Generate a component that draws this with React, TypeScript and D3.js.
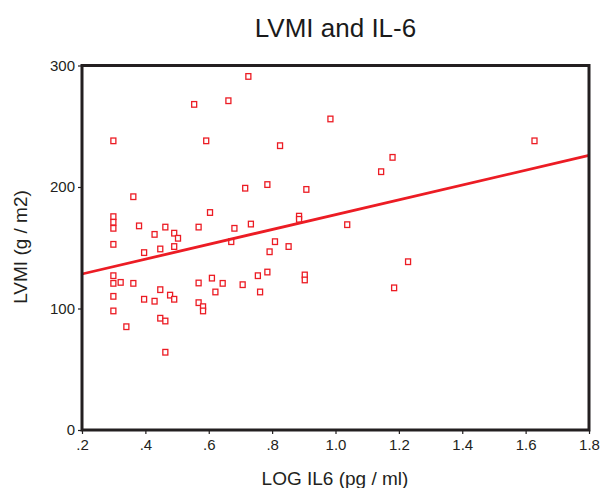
import React, { useEffect, useRef } from "react";
import * as d3 from "d3";

// LOG IL6 (x) and LVMI (y)
const logIL6 = [
  0.725, 0.554, 0.662, 0.984, 0.299, 0.592, 0.825, 0.362, 0.715, 0.785, 0.908,
  0.299, 0.299, 0.299, 0.299, 0.38, 0.429, 0.463, 0.491, 0.503, 0.491, 0.447,
  0.396, 0.568, 0.604, 0.681, 0.733, 0.671, 0.809, 0.792, 0.852, 0.885, 0.885,
  0.299, 0.299, 0.322, 0.362, 0.299, 0.299, 0.34, 0.396, 0.429, 0.447, 0.478,
  0.491, 0.447, 0.463, 0.463, 0.568, 0.61, 0.644, 0.621, 0.568, 0.582, 0.582,
  0.707, 0.755, 0.785, 0.762, 0.903, 0.903, 1.628, 1.18, 1.144, 1.037, 1.229,
  1.185,
];
const lvmi = [
  291, 268, 271, 256, 238, 238, 234, 192, 199, 202, 198,
  175.6, 171, 166, 152.8, 168, 161, 167, 162, 157.8, 151, 149,
  146, 167, 179, 166, 169.5, 155, 155, 146.7, 151, 176, 173.4,
  127, 120.7, 121.5, 120.7, 110, 98, 85, 107.6, 106, 115.5, 111,
  107.6, 92, 89.7, 64, 121, 125, 120.7, 113.6, 104.8, 101.5, 98,
  119.6, 127, 130, 113.6, 127.6, 123.5, 238, 224.4, 212.6, 169, 138.5,
  117,
];

// fitted line as drawn: value at left and right edge of the axis
const fitX = [0.2, 1.8];
const fitY = [128.4, 226];

const xTicks = [0.2, 0.4, 0.6, 0.8, 1.0, 1.2, 1.4, 1.6, 1.8];
const xTickLabels = [".2", ".4", ".6", ".8", "1.0", "1.2", "1.4", "1.6", "1.8"];
const yTicks = [0, 100, 200, 300];

const W = 601;
const H = 488;
const left = 82;
const right = 589;
const top = 65.5;
const bottom = 430;
const red = "#ec1c24";
const font = "'Liberation Sans', Arial, sans-serif";

const App = () => {
  const ref = useRef<SVGSVGElement>(null);

  useEffect(() => {
    const svg = d3.select(ref.current);
    svg.selectAll("*").remove();

    const x = d3.scaleLinear().domain([0.2, 1.8]).range([left, right]);
    const y = d3.scaleLinear().domain([0, 300]).range([bottom, top]);

    svg
      .append("text")
      .attr("x", 335.5)
      .attr("y", 37)
      .attr("text-anchor", "middle")
      .attr("font-family", font)
      .attr("font-size", 26)
      .attr("fill", "#1a1a1a")
      .text("LVMI and IL-6");

    // points
    svg
      .append("g")
      .selectAll("rect")
      .data(logIL6.map((v, i) => [v, lvmi[i]]))
      .join("rect")
      .attr("x", (d) => x(d[0]) - 2.5)
      .attr("y", (d) => y(d[1]) - 2.8)
      .attr("width", 5)
      .attr("height", 5.6)
      .attr("fill", "white")
      .attr("stroke", red)
      .attr("stroke-width", 1.3);

    // fit line
    svg
      .append("line")
      .attr("x1", x(fitX[0]))
      .attr("y1", y(fitY[0]))
      .attr("x2", x(fitX[1]))
      .attr("y2", y(fitY[1]))
      .attr("stroke", red)
      .attr("stroke-width", 2.8);

    // frame
    svg
      .append("rect")
      .attr("x", left)
      .attr("y", top)
      .attr("width", right - left)
      .attr("height", bottom - top)
      .attr("fill", "none")
      .attr("stroke", "#231f20")
      .attr("stroke-width", 3);

    const yAxis = svg
      .append("g")
      .attr("transform", `translate(${left},0)`)
      .call(d3.axisLeft(y).tickValues(yTicks).tickSize(4).tickPadding(3).tickFormat(d3.format("d")));
    yAxis.select(".domain").remove();

    const xAxis = svg
      .append("g")
      .attr("transform", `translate(0,${bottom})`)
      .call(
        d3
          .axisBottom(x)
          .tickValues(xTicks)
          .tickSize(4)
          .tickPadding(5)
          .tickFormat((d, i) => xTickLabels[i])
      );
    xAxis.select(".domain").remove();

    svg
      .selectAll(".tick text")
      .attr("font-family", font)
      .attr("font-size", 15)
      .attr("fill", "#231f20");
    svg.selectAll(".tick line").attr("stroke", "#231f20").attr("stroke-width", 1.2);

    svg
      .append("text")
      .attr("x", 335)
      .attr("y", 485)
      .attr("text-anchor", "middle")
      .attr("font-family", font)
      .attr("font-size", 19)
      .attr("fill", "#231f20")
      .text("LOG IL6 (pg / ml)");

    svg
      .append("text")
      .attr("transform", `translate(27,247) rotate(-90)`)
      .attr("text-anchor", "middle")
      .attr("font-family", font)
      .attr("font-size", 19)
      .attr("fill", "#231f20")
      .text("LVMI (g / m2)");
  });

  return (
    <div style={{ position: "absolute", left: 0, top: 0 }}>
      <svg ref={ref} width={W} height={H}></svg>
    </div>
  );
};

export default App;
